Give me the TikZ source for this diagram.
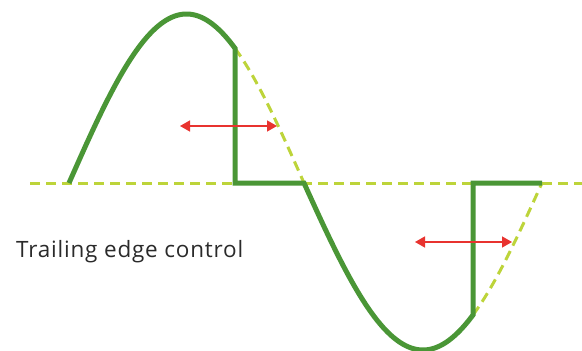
\documentclass[tikz,border=0pt]{standalone}
\usepackage{fontspec}
\setmainfont{Open Sans}
\newfontfamily\capfont[LetterSpace=3.5]{Open Sans}
\usetikzlibrary{arrows.meta}
\definecolor{wavegreen}{HTML}{4A9636}
\definecolor{palegreen}{HTML}{BDD43A}
\definecolor{arrowred}{HTML}{E8332F}
\definecolor{textgrey}{HTML}{2A2A2A}
\tikzset{
  wave/.style={draw=wavegreen, line width=5pt, line join=miter},
  ghost/.style={draw=palegreen, line width=3pt, dash pattern=on 10pt off 6pt},
  move/.style={draw=arrowred, line width=1.5pt, {Triangle[length=10pt,width=11pt]}-{Triangle[length=10pt,width=11pt]}},
  caption/.style={font=\capfont\fontsize{22.5}{27}\selectfont, text=textgrey, inner sep=0pt, anchor=base west}
}
\begin{document}
\begin{tikzpicture}[x=1pt,y=-1pt]
\useasboundingbox (0,0) rectangle (582,351);
% axis
\coordinate (axL) at (30,183);
\coordinate (axR) at (582,183);
\draw[ghost] (axL) -- (axR);
% ghost continuations
\draw[ghost] plot[domain=235:304, samples=30, smooth] (\x, {183-169*sin((\x-69)/235*180)});
\draw[ghost] plot[domain=473:542, samples=30, smooth] (\x, {183+167*sin((\x-304)/238*180)});
% chopped wave
\draw[wave] plot[domain=69:235, samples=80, smooth] (\x, {183-169*sin((\x-69)/235*180)})
  -- (235,183) -- (304,183)
  -- plot[domain=304:473, samples=80, smooth] (\x, {183+167*sin((\x-304)/238*180)})
  -- (473,183) -- (542,183);
% arrows
\coordinate (a1) at (180,126);
\coordinate (b1) at (277,126);
\coordinate (a2) at (415,242);
\coordinate (b2) at (512,242);
\draw[move] (a1) -- (b1);
\draw[move] (a2) -- (b2);
% caption
\node[caption] (lbl) at (16,257) {Trailing edge control};
\end{tikzpicture}
\end{document}
